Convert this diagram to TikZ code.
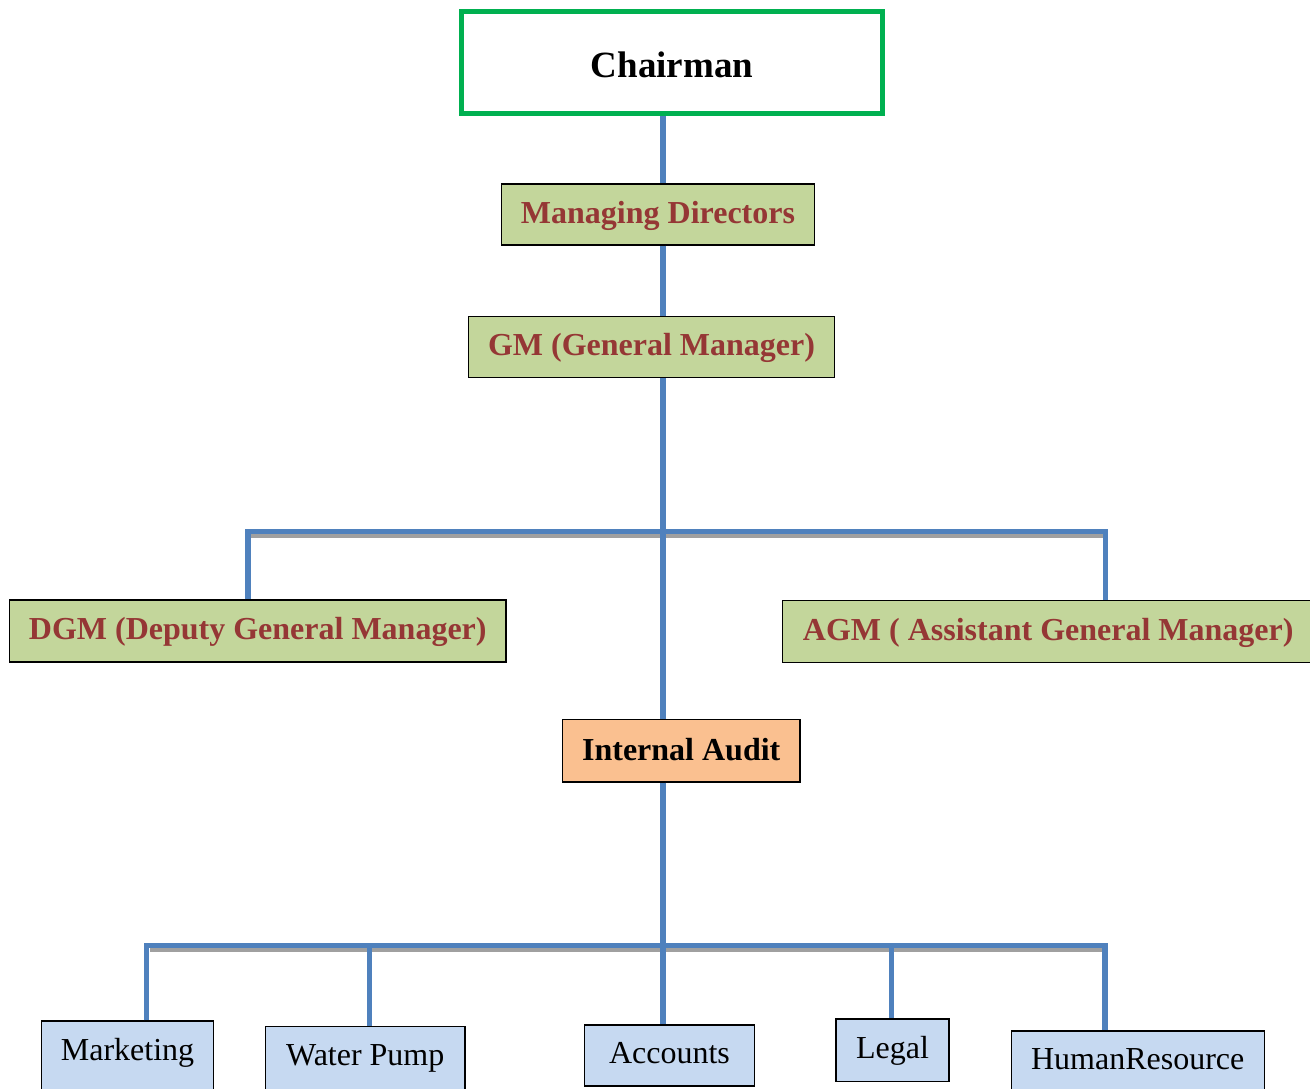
\documentclass[tikz,border=0pt]{standalone}
\usepackage{fontspec}
\setmainfont{Liberation Serif}
\definecolor{connblue}{HTML}{4F81BD}
\definecolor{boxgreen}{HTML}{C3D69B}
\definecolor{darkred}{HTML}{953735}
\definecolor{boxorange}{HTML}{FAC090}
\definecolor{boxblue}{HTML}{C6D9F1}
\definecolor{chgreen}{HTML}{00B050}
\definecolor{shadegray}{HTML}{A0A0A0}
\tikzset{
  box/.style={draw=black, line width=1.1pt, inner xsep=0pt, inner ysep=0pt, anchor=base},
  greenbox/.style={box, fill=boxgreen, text=darkred, font=\fontsize{32}{38}\selectfont\bfseries},
  orangebox/.style={box, fill=boxorange, font=\fontsize{32}{38}\selectfont\bfseries},
  bluebox/.style={box, fill=boxblue, font=\fontsize{32}{38}\selectfont},
  chairbox/.style={box, draw=chgreen, line width=4.5pt, fill=white, font=\fontsize{37}{43}\selectfont\bfseries},
  conn/.style={draw=connblue, line width=5.5pt, line cap=butt, line join=miter},
  shadeline/.style={draw=shadegray, line width=4.5pt},
}
\begin{document}
\begin{tikzpicture}[x=1pt,y=-1pt]
\useasboundingbox (0,0) rectangle (1310,1088);
\clip (0,0) rectangle (1310,1088);
\fill[white] (0,0) rectangle (1310,1088);

% nodes
\node[chairbox, minimum width=421pt, text height=66pt, text depth=36pt] (ch) at (672,77.3) {Chairman};
\node[greenbox, minimum width=313pt, text height=39pt, text depth=22pt] (md) at (658,223) {Managing Directors};
\node[greenbox, minimum width=366pt, text height=38.5pt, text depth=22.5pt] (gm) at (651.5,355) {GM (General Manager)};
\node[greenbox, minimum width=496.5pt, text height=39pt, text depth=23pt] (dgm) at (257.75,639) {DGM (Deputy General Manager)};
\node[greenbox, minimum width=531.5pt, text height=39.5pt, text depth=22.5pt] (agm) at (1048.25,640) {AGM ( Assistant General Manager)};
\node[orangebox, minimum width=237.5pt, text height=40.5pt, text depth=22pt] (ia) at (681.25,760) {Internal Audit};
\node[bluebox, minimum width=172pt, text height=39pt, text depth=40pt] (mk) at (127.5,1060) {Marketing};
\node[bluebox, minimum width=199.5pt, text height=38.5pt, text depth=40pt] (wp) at (365.25,1065) {Water Pump};
\node[bluebox, minimum width=170pt, text height=38pt, text depth=23pt] (acc) at (669.5,1063) {Accounts};
\node[bluebox, minimum width=113pt, text height=39pt, text depth=23.7pt] (lg) at (892.5,1058) {Legal};
\node[bluebox, minimum width=253pt, text height=38pt, text depth=40pt] (hr) at (1137.7,1069) {HumanResource};

% connector reference points
\coordinate (sp) at (663,0);
\coordinate (b1l) at (248,531.5);
\coordinate (b1r) at (1105.5,531.5);
\coordinate (b2l) at (146.5,945.5);
\coordinate (b2r) at (1105,945.5);
\coordinate (wpx) at (369.5,945.5);
\coordinate (lgx) at (891.5,945.5);

% shadows
\draw[shadeline] ([shift={(3,4)}]b1l) -- ([shift={(-3,4)}]b1r);
\draw[shadeline] ([shift={(3,4)}]b2l) -- ([shift={(-3,4)}]b2r);

% connectors
\draw[conn] (sp |- ch.south) -- (sp |- md.north);
\draw[conn] (sp |- md.south) -- (sp |- gm.north);
\draw[conn] (sp |- gm.south) -- (sp |- ia.north);
\draw[conn] (b1l |- dgm.north) -- (b1l) -- (b1r) -- (b1r |- agm.north);
\draw[conn] (sp |- ia.south) -- (sp |- acc.north);
\draw[conn] (b2l |- mk.north) -- (b2l) -- (b2r) -- (b2r |- hr.north);
\draw[conn] (wpx) -- (wpx |- wp.north);
\draw[conn] (lgx) -- (lgx |- lg.north);
\end{tikzpicture}
\end{document}
